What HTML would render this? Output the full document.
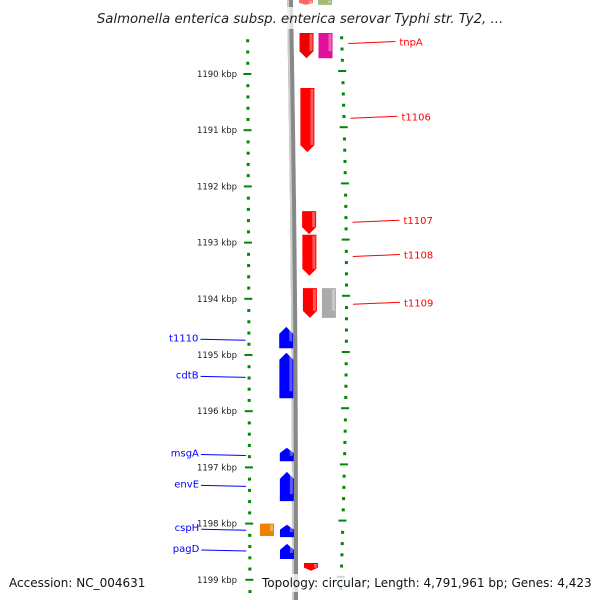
<!DOCTYPE html>
<html><head><meta charset="utf-8"><style>
body{margin:0;background:#fff;}
svg{display:block;font-family:"DejaVu Sans","Liberation Sans",sans-serif;}
</style></head><body>
<svg width="600" height="600" viewBox="0 0 600 600">
<g id="axes"></g>
<g id="genes"></g>
<g id="labels"></g>
<rect x="80" y="7" width="440" height="22" fill="#fff" opacity="0.75"/>
<text x="300" y="23" text-anchor="middle" font-size="13.3" font-style="italic" fill="#222">Salmonella enterica subsp. enterica serovar Typhi str. Ty2, ...</text>
<rect x="258" y="574" width="336" height="18" fill="#fff" opacity="0.75"/>
<text x="9" y="587" font-size="12" fill="#111">Accession: NC_004631</text>
<text x="262" y="587" font-size="12" fill="#111">Topology: circular; Length: 4,791,961 bp; Genes: 4,423</text>
</svg>
<script>
const kbpTicks=[1190,1191,1192,1193,1194,1195,1196,1197,1198,1199];
const geneNames=['top-red','top-green','tnpA','tnpA-pair','t1106','t1107','t1108','t1109','t1109-pair','bottom-red','t1110','cdtB','msgA','envE','cspH','cspH-pair','pagD'];
const geneStart=[1188.68,1188.68,1189.27,1189.27,1190.25,1192.44,1192.86,1193.81,1193.81,1198.70,1194.50,1194.96,1196.65,1197.08,1198.02,1198.00,1198.36];
const geneEnd=[1188.77,1188.77,1189.72,1189.72,1191.39,1192.85,1193.59,1194.34,1194.34,1198.84,1194.88,1195.77,1196.89,1197.60,1198.24,1198.22,1198.63];
const geneStrand=[1,0,1,0,1,1,1,1,0,1,-1,-1,-1,-1,-1,0,-1];
const geneLane=[0,1,0,1,0,0,0,0,1,0,0,0,0,0,0,-1,0];
const geneColor=['#f00','#6a8a1a','#e00','#e0109a','#f00','#f00','#f00','#f00','#aaa','#f00','#00f','#00f','#00f','#00f','#00f','#f08000','#00f'];
const labelText=['tnpA','t1106','t1107','t1108','t1109','t1110','cdtB','msgA','envE','cspH','pagD'];
const labelSide=[1,1,1,1,1,-1,-1,-1,-1,-1,-1];
const labelKbp=[1189.44,1190.77,1192.62,1193.23,1194.08,1194.72,1195.38,1196.77,1197.32,1198.10,1198.47];
const NS='http://www.w3.org/2000/svg';
const y=k=>74+(k-1190)*56.2;
const bbX=py=>290+5*py/600+1.5*Math.sin(Math.PI*py/600);
const lX=py=>247+2.5*py/600;
const rX=py=>340+6*Math.sin(Math.PI*py/600);
function mk(t,a,p){const e=document.createElementNS(NS,t);for(const k in a)e.setAttribute(k,a[k]);p.appendChild(e);return e;}
const ax=document.getElementById('axes'),gg=document.getElementById('genes'),lg=document.getElementById('labels');
let d='';for(let py=0;py<=600;py+=10)d+=(py?'L':'M')+bbX(py).toFixed(1)+' '+py;
const bb=mk('path',{d:d,stroke:'#888','stroke-width':6,fill:'none'},ax);


const bb2=mk('path',{d:d,stroke:'#ccc','stroke-width':2,fill:'none',transform:'translate(-2,0)'},ax);


for(let k=1188.6;k<=1199.4;k+=0.2){const py=y(k);if(py<30||py>598)continue;
 const maj=Math.abs(k-Math.round(k))<0.01;
 const rpy=py-3;
 const a=mk('rect',{x:lX(py)-(maj?4:1),y:py-1,width:maj?8:3,height:maj?2:3,fill:'#080'},ax);
 
 
 const b=mk('rect',{x:rX(rpy)-(maj?4:1),y:rpy-1,width:maj?8:3,height:maj?2:3,fill:'#080'},ax);
 
 }
kbpTicks.forEach(k=>{const t=mk('text',{x:237,y:y(k)+3,'text-anchor':'end','font-size':8.5,fill:'#222'},ax);t.textContent=k+' kbp';
 
 });
geneStart.forEach((s,i)=>{const y0=y(s),y1=y(geneEnd[i]);const st=geneStrand[i];
 let x;
 if(st<0)x=bbX(y0)-15;
 else if(st>0)x=bbX(y0)+9;
 else x=geneLane[i]<0?bbX(y0)-35:bbX(y0)+28;
 const w=14;const h=y1-y0;const ah=Math.min(7,h*0.4);
 let p;
 if(st>0)p=`M${x} ${y0}H${x+w}V${y1-ah}L${x+w/2} ${y1}L${x} ${y1-ah}Z`;
 else if(st<0)p=`M${x} ${y1}H${x+w}V${y0+ah}L${x+w/2} ${y0}L${x} ${y0+ah}Z`;
 else p=`M${x} ${y0}H${x+w}V${y1}H${x}Z`;
 const e=mk('path',{d:p,fill:geneColor[i],opacity:i<2?0.6:1},gg);
 
 
 const hl=mk('rect',{x:x+w-4,y:y0+1,width:3,height:Math.max(1,h-ah-1),fill:'#fff',opacity:0.35},gg);
 
 });
labelText.forEach((t,i)=>{const py=y(labelKbp[i]);
 const right=labelSide[i]>0;const col=right?'#f00':'#00f';
 let ln,tx;
 if(right){ln=mk('line',{x1:rX(py)+7,y1:py+1,x2:rX(py)+54,y2:py-1,stroke:col,'stroke-width':1},lg);
  tx=mk('text',{x:rX(py)+58,y:py+3,'font-size':10,fill:col},lg);}
 else{ln=mk('line',{x1:lX(py)-48,y1:py,x2:lX(py)-3,y2:py+1,stroke:col,'stroke-width':1},lg);
  tx=mk('text',{x:lX(py)-50,y:py+2,'text-anchor':'end','font-size':10,fill:col},lg);}
 
 
 tx.textContent=t;
 
 });
</script>
</body></html>
